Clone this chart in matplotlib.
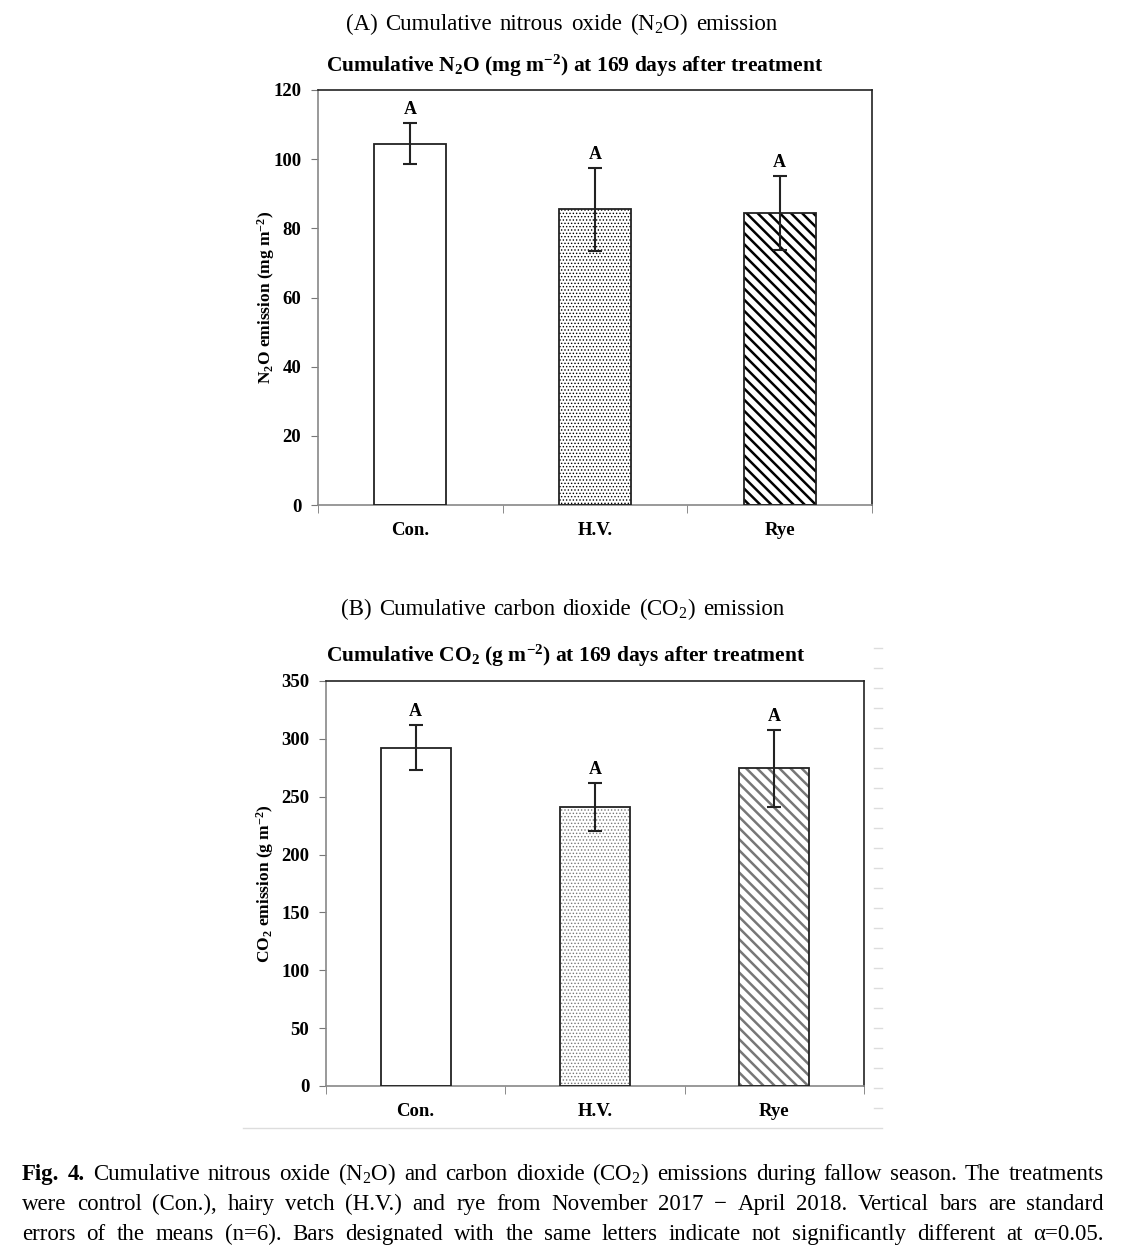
import numpy as np
import matplotlib
matplotlib.use("Agg")
import matplotlib.pyplot as plt
from matplotlib.lines import Line2D

plt.rcParams['font.family'] = ['Liberation Serif', 'DejaVu Serif']
plt.rcParams['mathtext.fontset'] = 'custom'
plt.rcParams['mathtext.rm'] = 'Liberation Serif'
plt.rcParams['mathtext.bf'] = 'Liberation Serif:bold'
plt.rcParams['mathtext.it'] = 'Liberation Serif:italic'

# data
treatments = ['Con.', 'H.V.', 'Rye']
n2o_mean = [104.5, 85.5, 84.5]
n2o_se = [6.0, 12.0, 10.7]
co2_mean = [292.5, 241.0, 274.5]
co2_se = [19.5, 21.0, 33.0]
letters_n2o = ['A', 'A', 'A']
letters_co2 = ['A', 'A', 'A']

W, H = 1122, 1254
fig = plt.figure(figsize=(W / 100, H / 100), dpi=100)


def fx(px):
    return px / W


def fy(py):
    return 1 - py / H


def justify(words, y, x0, x1, size, weights=None):
    # place words on a common baseline so the line fills x0..x1 (pixels)
    if weights is None:
        weights = ['normal'] * len(words)
    rend = fig.canvas.get_renderer()
    txts = []
    for w, wt in zip(words, weights):
        t = fig.text(0, fy(y), w, fontsize=size, fontweight=wt, va='baseline', ha='left')
        txts.append(t)
    widths = [t.get_window_extent(rend).width for t in txts]
    gap = (x1 - x0 - sum(widths)) / max(len(words) - 1, 1)
    x = x0
    for t, wd in zip(txts, widths):
        t.set_x(fx(x))
        x += wd + gap


def draw_panel(ax, means, ses, letters, ymax, ystep, ylabel, hatch_col, dot_col):
    x = np.arange(len(treatments))
    styles = [('', 'black'), ('.....', dot_col), ('\\\\\\', hatch_col)]
    for i in range(len(means)):
        h, c = styles[i]
        with plt.rc_context({'hatch.linewidth': 0.6 if h.startswith('.') else 1.8}):
            ax.bar(x[i], means[i], width=0.39, color='white', edgecolor=c,
                   hatch=h, linewidth=0, zorder=2)
        ax.bar(x[i], means[i], width=0.39, facecolor='none', edgecolor='#222222',
               linewidth=1.3, zorder=3)
    ax.errorbar(x, means, yerr=ses, fmt='none', ecolor='#222222', elinewidth=1.5,
                capsize=5, capthick=1.5, zorder=4)
    for i in range(len(means)):
        ax.text(x[i], means[i] + ses[i] + ymax * 0.012, letters[i], ha='center',
                va='bottom', fontsize=13, fontweight='bold')
    ax.set_xlim(-0.5, 2.5)
    ax.set_ylim(0, ymax)
    ax.set_yticks(np.arange(0, ymax + 1, ystep))
    ax.set_xticks(x)
    ax.set_xticklabels(treatments, fontsize=13.5, fontweight='bold')
    ax.set_xticks([-0.5, 0.5, 1.5, 2.5], minor=True)
    ax.tick_params(axis='x', which='major', length=0, pad=12)
    ax.tick_params(axis='x', which='minor', length=6, color='#777777', direction='out')
    ax.tick_params(axis='y', length=5, color='#777777', direction='out', pad=7,
                   labelsize=13.5)
    for lab in ax.get_yticklabels():
        lab.set_fontweight('bold')
    for s in ax.spines.values():
        s.set_color('#222222')
        s.set_linewidth(1.2)
    ax.spines['left'].set_color('#888888')
    ax.spines['bottom'].set_color('#888888')
    ax.set_ylabel(ylabel, fontsize=12.5, fontweight='bold')


# panel A
axA = fig.add_axes([fx(318), fy(505), fx(872 - 318), (505 - 90) / H])
draw_panel(axA, n2o_mean, n2o_se, letters_n2o, 120, 20,
           r'N$_\mathbf{2}$O emission (mg m$^\mathbf{-2}$)', 'black', 'black')
axA.yaxis.set_label_coords(-0.107 + 0.0325, 0.5)

# panel B
axB = fig.add_axes([fx(326), fy(1086), fx(864 - 326), (1086 - 681) / H])
draw_panel(axB, co2_mean, co2_se, letters_co2, 350, 50,
           r'CO$_\mathbf{2}$ emission (g m$^\mathbf{-2}$)', '#777777', '#777777')
axB.yaxis.set_label_coords(-0.117 + 0.024, 0.5)

# panel titles
justify(['(A)', 'Cumulative', 'nitrous', 'oxide', r'(N$_2$O)', 'emission'],
        30, 346, 777, 16.5)
fig.text(fx(575), fy(72), r'Cumulative N$_\mathbf{2}$O (mg m$^\mathbf{-2}$) at 169 days after treatment',
         ha='center', va='baseline', fontsize=15.5, fontweight='bold')
justify(['(B)', 'Cumulative', 'carbon', 'dioxide', r'(CO$_2$)', 'emission'],
        615, 341, 784, 16.5)
fig.text(fx(566), fy(662), r'Cumulative CO$_\mathbf{2}$ (g m$^\mathbf{-2}$) at 169 days after treatment',
         ha='center', va='baseline', fontsize=15.5, fontweight='bold')

# faint scan artefacts around panel B
fig.add_artist(Line2D([fx(243), fx(882)], [fy(1128), fy(1128)], color='#dddddd', lw=1))
for yy in np.arange(648, 1115, 20):
    fig.add_artist(Line2D([fx(874), fx(882)], [fy(yy), fy(yy)], color='#dddddd', lw=1))

# caption
line1 = ['Fig.', '4.', 'Cumulative', 'nitrous', 'oxide', r'(N$_2$O)', 'and', 'carbon',
         'dioxide', r'(CO$_2$)', 'emissions', 'during', 'fallow', 'season.', 'The', 'treatments']
wts1 = ['bold', 'bold'] + ['normal'] * (len(line1) - 2)
justify(line1, 1180, 22, 1104, 16.5, wts1)
line2 = ['were', 'control', '(Con.),', 'hairy', 'vetch', '(H.V.)', 'and', 'rye', 'from',
         'November', '2017', '\u2212', 'April', '2018.', 'Vertical', 'bars', 'are', 'standard']
justify(line2, 1210, 22, 1104, 16.5)
line3 = ['errors', 'of', 'the', 'means', '(n=6).', 'Bars', 'designated', 'with', 'the', 'same',
         'letters', 'indicate', 'not', 'significantly', 'different', 'at', '\u03b1=0.05.']
justify(line3, 1240, 22, 1104, 16.5)

fig.savefig('out.png', dpi=100)
